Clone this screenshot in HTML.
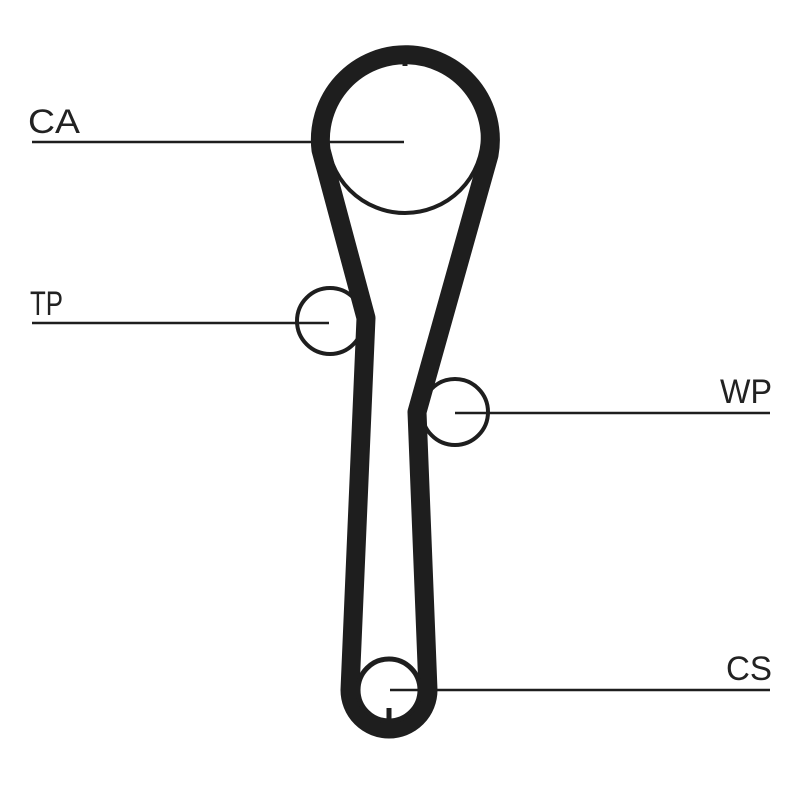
<!DOCTYPE html>
<html><head><style>
html,body{margin:0;padding:0;background:#fff;}
svg{display:block;}
text{font-family:"Liberation Sans",sans-serif;font-size:34px;fill:#222;}
</style></head><body>
<svg width="800" height="800" viewBox="0 0 800 800">
<g fill="none" stroke="#1e1e1e">
<circle cx="405" cy="135" r="78" stroke-width="4"/>
<path d="M 489,155 A 85 85 0 1 0 321,150 L 366,318 L 350,690 A 39 39 0 0 0 428,690 L 417,412 Z" stroke-width="19" stroke-linejoin="round"/>
<circle cx="330" cy="321" r="33" stroke-width="4"/>
<circle cx="455" cy="412" r="33" stroke-width="4"/>
<circle cx="389" cy="690" r="31" stroke-width="5"/>
<line x1="405" y1="52" x2="405" y2="66" stroke-width="5"/>
<line x1="389" y1="708" x2="389" y2="722" stroke-width="5"/>
<line x1="32" y1="142" x2="404" y2="142" stroke-width="2.5"/>
<line x1="32" y1="323" x2="329" y2="323" stroke-width="2.5"/>
<line x1="455" y1="413" x2="770" y2="413" stroke-width="2.5"/>
<line x1="390" y1="690" x2="770" y2="690" stroke-width="2.5"/>
</g>
<text x="28" y="133" textLength="52" lengthAdjust="spacingAndGlyphs">CA</text>
<text x="30" y="315" textLength="33" lengthAdjust="spacingAndGlyphs">TP</text>
<text x="720" y="403" textLength="52" lengthAdjust="spacingAndGlyphs">WP</text>
<text x="726" y="680" textLength="46" lengthAdjust="spacingAndGlyphs">CS</text>
</svg>
</body></html>
